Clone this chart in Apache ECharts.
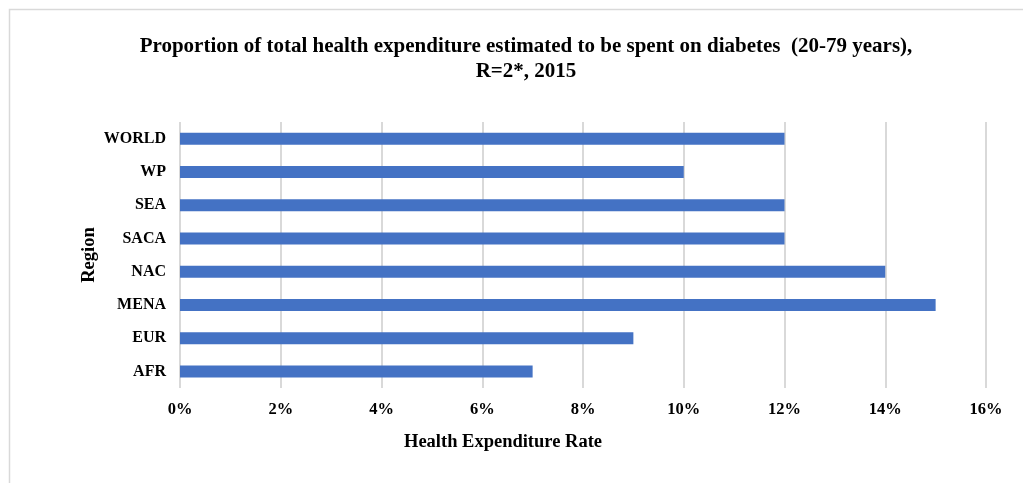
<!DOCTYPE html>
<html>
<head>
<meta charset="utf-8">
<script src="https://cdn.jsdelivr.net/npm/echarts@6/dist/echarts.min.js"></script>
<style>
  html, body { margin: 0; padding: 0; background: #fff; }
  #chart { width: 1023px; height: 483px; }
</style>
</head>
<body>
<div id="chart"></div>
<script>
// 数据
var regions = ["AFR", "EUR", "MENA", "NAC", "SACA", "SEA", "WP", "WORLD"];
var rates = [7, 9, 15, 14, 12, 12, 10, 12];
var xTicks = [0, 2, 4, 6, 8, 10, 12, 14, 16];

var serif = '"Liberation Serif", "Times New Roman", serif';
var chart = echarts.init(document.getElementById("chart"));
var option = {
  backgroundColor: "#fff",
  animation: false,
  title: {
    text: "Proportion of total health expenditure estimated to be spent on diabetes  (20-79 years),\nR=2*, 2015",
    left: 521,
    top: 29,
    textAlign: "center",
    textStyle: {
      fontFamily: serif,
      fontWeight: "bold",
      fontSize: 21,
      lineHeight: 25,
      color: "#000",
    },
  },
  graphic: [
    {
      type: "rect",
      shape: { x: 9.5, y: 9.5, width: 1100, height: 600 },
      style: { fill: "none", stroke: "#d9d9d9", lineWidth: 1.5 },
      silent: true,
    },
  ],
  grid: { left: 180, right: 37, top: 122, bottom: 95 },
  xAxis: {
    type: "value",
    min: xTicks[0],
    max: xTicks[xTicks.length - 1],
    interval: 2,
    name: "Health Expenditure Rate",
    nameLocation: "middle",
    nameGap: 45,
    nameTextStyle: {
      fontFamily: serif,
      fontWeight: "bold",
      fontSize: 18.5,
      color: "#000",
      padding: [0, 0, 0, -160],
    },
    axisLine: { show: false },
    axisTick: { show: false },
    axisLabel: {
      formatter: "{value}%",
      fontFamily: serif,
      fontWeight: "bold",
      fontSize: 16.5,
      color: "#000",
      margin: 13,
    },
    splitLine: { show: true, lineStyle: { color: "#d9d9d9", width: 2 } },
  },
  yAxis: {
    type: "category",
    data: regions,
    name: "Region",
    nameLocation: "middle",
    nameMoveOverlap: false,
    nameGap: 81,
    nameRotate: 90,
    nameTextStyle: {
      fontFamily: serif,
      fontWeight: "bold",
      fontSize: 18.5,
      color: "#000",
    },
    axisLine: { show: false },
    axisTick: { show: false },
    axisLabel: {
      fontFamily: serif,
      fontWeight: "bold",
      fontSize: 16,
      color: "#000",
      margin: 14,
    },
  },
  series: [
    {
      type: "bar",
      data: rates,
      barWidth: 12,
      itemStyle: { color: "#4472c4" },
    },
  ],
};
chart.setOption(option);
</script>
</body>
</html>
